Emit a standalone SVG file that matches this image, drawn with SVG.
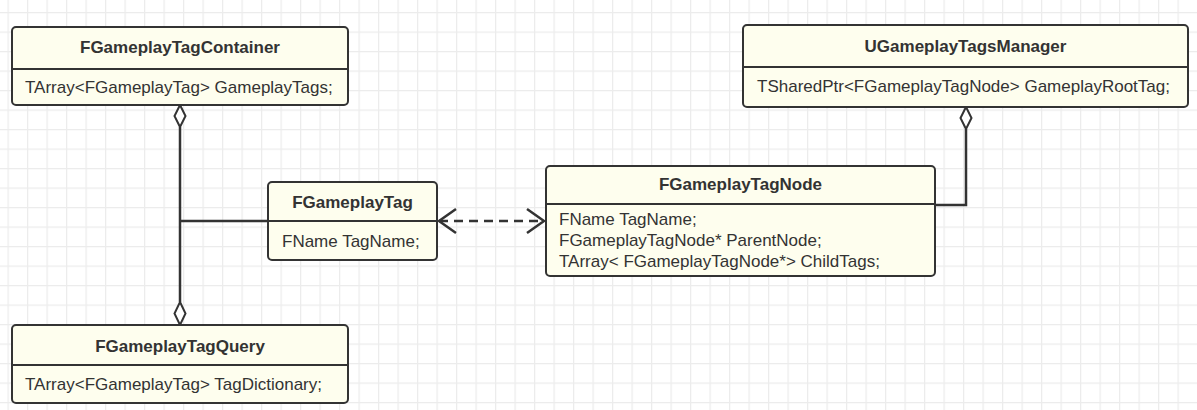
<svg xmlns="http://www.w3.org/2000/svg" width="1197" height="410" viewBox="0 0 1197 410">
<defs>
<pattern id="minor" patternUnits="userSpaceOnUse" x="7.5" y="12" width="19.5" height="19.5">
<path d="M0 0.5H19.5M0.5 0V19.5" fill="none" stroke="#ececec" stroke-width="1.5"/>
</pattern>
<style>
.box{fill:#fefeee;stroke:#333;stroke-width:2}
.div{stroke:#333;stroke-width:2}
.t{font-family:"Liberation Sans",Arial,sans-serif;font-size:17px;fill:#333}
.b{font-weight:bold;text-anchor:middle}
.ln{fill:none;stroke:#333;stroke-width:2.5}
.dia{fill:#fff;stroke:#333;stroke-width:2}
</style>
</defs>
<rect width="1197" height="410" fill="#fff"/>
<rect width="1197" height="410" fill="url(#minor)"/>

<g id="connectors">
<path class="ln" d="M180 127V302"/>
<path class="ln" d="M180 221H268"/>
<path class="ln" d="M966 129V205H935"/>
<path class="ln" d="M439 221H544" stroke-dasharray="9 6"/>
<path class="ln" d="M456 209L439 221L456 233"/>
<path class="ln" d="M527 209L544 221L527 233"/>
<path class="dia" d="M180 105L185.5 116L180 127L174.5 116Z"/>
<path class="dia" d="M180 302L185.5 313.5L180 325L174.5 313.5Z"/>
<path class="dia" d="M966 107L971.5 118L966 129L960.5 118Z"/>
</g>

<g id="FGameplayTagContainer">
<rect class="box" x="12" y="27" width="336" height="78" rx="4"/>
<line class="div" x1="12" y1="69" x2="348" y2="69"/>
<text class="t b" x="180" y="53">FGameplayTagContainer</text>
<text class="t" x="25" y="93">TArray&lt;FGameplayTag&gt; GameplayTags;</text>
</g>

<g id="UGameplayTagsManager">
<rect class="box" x="743" y="25" width="445" height="82" rx="4"/>
<line class="div" x1="743" y1="67" x2="1188" y2="67"/>
<text class="t b" x="965.5" y="52">UGameplayTagsManager</text>
<text class="t" x="757" y="92">TSharedPtr&lt;FGameplayTagNode&gt; GameplayRootTag;</text>
</g>

<g id="FGameplayTag">
<rect class="box" x="268" y="182" width="169" height="78" rx="4"/>
<line class="div" x1="268" y1="221" x2="437" y2="221"/>
<text class="t b" x="352.5" y="208">FGameplayTag</text>
<text class="t" x="282" y="247">FName TagName;</text>
</g>

<g id="FGameplayTagNode">
<rect class="box" x="546" y="166" width="389" height="110" rx="4"/>
<line class="div" x1="546" y1="204" x2="935" y2="204"/>
<text class="t b" x="740.5" y="190">FGameplayTagNode</text>
<text class="t" x="559" y="225">FName TagName;</text>
<text class="t" x="559" y="246">FGameplayTagNode* ParentNode;</text>
<text class="t" x="559" y="267">TArray&lt; FGameplayTagNode*&gt; ChildTags;</text>
</g>

<g id="FGameplayTagQuery">
<rect class="box" x="12" y="325" width="336" height="78" rx="4"/>
<line class="div" x1="12" y1="365" x2="348" y2="365"/>
<text class="t b" x="180" y="352">FGameplayTagQuery</text>
<text class="t" x="25" y="390">TArray&lt;FGameplayTag&gt; TagDictionary;</text>
</g>
</svg>
